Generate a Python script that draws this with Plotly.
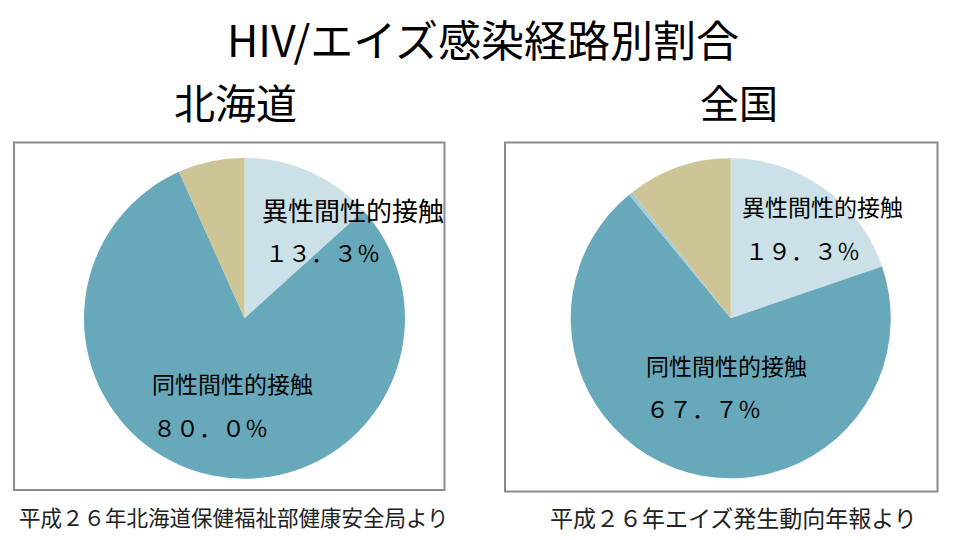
import plotly.graph_objects as go

# ---- data ----
title_text = "HIV/エイズ感染経路別割合"
left_title = "北海道"
right_title = "全国"

left_categories = ["異性間性的接触", "同性間性的接触", "その他・不明"]
left_values = [13.3, 80.0, 6.7]
left_pct_text = ["１３．３％", "８０．０％"]

right_categories = ["異性間性的接触", "同性間性的接触", "静注薬物使用", "その他・不明"]
right_values = [19.3, 67.7, 0.4, 10.3]
right_pct_text = ["１９．３％", "６７．７％"]

left_source = "平成２６年北海道保健福祉部健康安全局より"
right_source = "平成２６年エイズ発生動向年報より"

left_colors = ["#CCE1E7", "#67A8BA", "#CDC596"]
right_colors = ["#CCE1E7", "#67A8BA", "#A6CBD6", "#CDC596"]

W, H = 953, 540
OFF = 8  # page body margin offset
FONT = "Noto Sans CJK JP"


def px_x(x):
    return (x - OFF) / W


def px_y(y):
    return 1 - (y - OFF) / H


fig = go.Figure()

fig.add_trace(go.Pie(
    labels=left_categories, values=left_values, sort=False, direction="clockwise",
    rotation=0, textinfo="none", hoverinfo="label+percent",
    marker=dict(colors=left_colors, line=dict(width=0)),
    domain=dict(x=[px_x(84), px_x(405)], y=[px_y(478.8), px_y(157.8)]),
    showlegend=False,
))
fig.add_trace(go.Pie(
    labels=right_categories, values=right_values, sort=False, direction="clockwise",
    rotation=0, textinfo="none", hoverinfo="label+percent",
    marker=dict(colors=right_colors, line=dict(width=0)),
    domain=dict(x=[px_x(570.7), px_x(890.7)], y=[px_y(478.3), px_y(158.3)]),
    showlegend=False,
))

shapes = [
    dict(type="rect", xref="paper", yref="paper",
         x0=px_x(14), x1=px_x(444.5), y0=px_y(490), y1=px_y(142.5),
         line=dict(color="#8C8C8C", width=2), fillcolor="rgba(0,0,0,0)"),
    dict(type="rect", xref="paper", yref="paper",
         x0=px_x(505), x1=px_x(937.5), y0=px_y(491.5), y1=px_y(142.5),
         line=dict(color="#8C8C8C", width=2), fillcolor="rgba(0,0,0,0)"),
]


def ann(text, x, y, size, color="#000000"):
    return dict(text=text, x=px_x(x), y=px_y(y), xref="paper", yref="paper",
                showarrow=False, xanchor="center", yanchor="middle",
                font=dict(family=FONT, size=size, color=color))


annotations = [
    ann(title_text, 483, 38, 43),
    ann(left_title, 235, 101, 41),
    ann(right_title, 739, 101, 39),
    ann(left_categories[0], 353, 209, 26),
    ann(left_pct_text[0], 322, 252, 23),
    ann(left_categories[1], 232, 383, 23),
    ann(left_pct_text[1], 210, 427, 23),
    ann(right_categories[0], 822, 206, 23),
    ann(right_pct_text[0], 802, 250, 23),
    ann(right_categories[1], 726, 365, 23),
    ann(right_pct_text[1], 703, 408, 23),
    ann(left_source, 234, 517, 21.5, "#222222"),
    ann(right_source, 733, 517, 23, "#222222"),
]

fig.update_layout(
    width=W, height=H,
    margin=dict(l=0, r=0, t=0, b=0),
    paper_bgcolor="#FFFFFF", plot_bgcolor="#FFFFFF",
    shapes=shapes, annotations=annotations,
    font=dict(family=FONT),
)

fig.write_html("out.html")
